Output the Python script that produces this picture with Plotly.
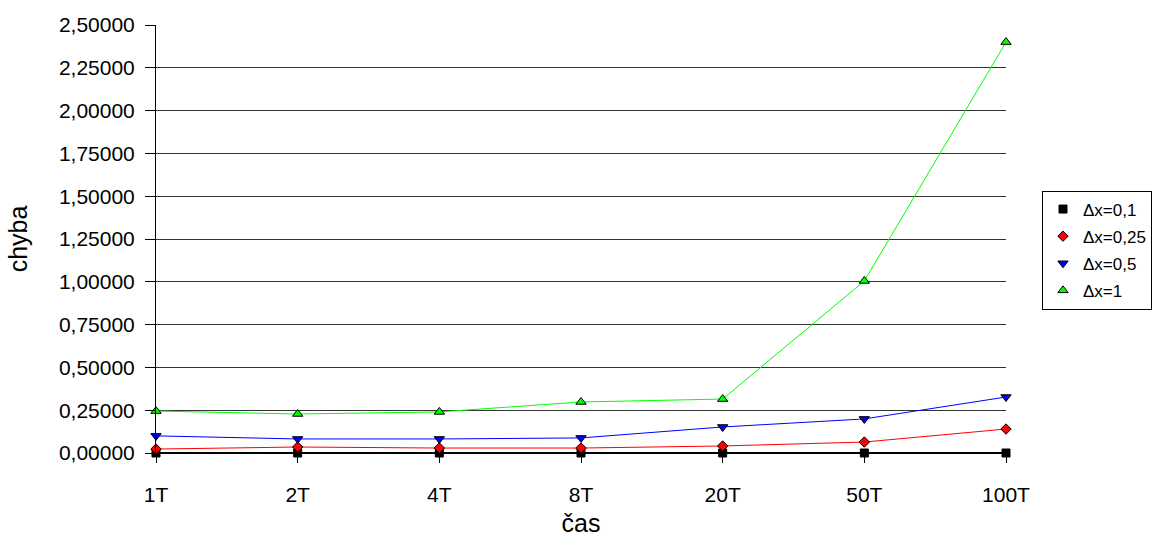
import plotly.graph_objects as go

categories = ["1T", "2T", "4T", "8T", "20T", "50T", "100T"]
dx_01 = [0.0, 0.0, 0.0, 0.0, 0.0, 0.0, 0.0]
dx_025 = [0.023, 0.035, 0.029, 0.029, 0.041, 0.064, 0.140]
dx_05 = [0.100, 0.082, 0.082, 0.088, 0.152, 0.199, 0.327]
dx_1 = [0.245, 0.228, 0.240, 0.298, 0.315, 1.005, 2.400]
series_names = ["Δx=0,1", "Δx=0,25", "Δx=0,5", "Δx=1"]
y_ticks = [0, 0.25, 0.5, 0.75, 1.0, 1.25, 1.5, 1.75, 2.0, 2.25, 2.5]

styles = [
    dict(color="#000000", symbol="square", size=8),
    dict(color="#ff0000", symbol="diamond", size=8),
    dict(color="#0000ff", symbol="triangle-down", size=9),
    dict(color="#00ff00", symbol="triangle-up", size=9),
]

fig = go.Figure()
for name, vals, st in zip(series_names, [dx_01, dx_025, dx_05, dx_1], styles):
    fig.add_trace(go.Scatter(
        x=categories, y=vals, name=name, mode="lines+markers",
        line=dict(color=st["color"], width=1),
        marker=dict(symbol=st["symbol"], size=st["size"], color=st["color"],
                    line=dict(color="#000000", width=1)),
        cliponaxis=False, showlegend=False,
    ))
# legend entries showing only the marker symbol
for name, st in zip(series_names, styles):
    fig.add_trace(go.Scatter(
        x=[None], y=[None], name=name, mode="markers", legendgroup=name,
        marker=dict(symbol=st["symbol"], size=st["size"], color=st["color"],
                    line=dict(color="#000000", width=1)),
        showlegend=True,
    ))

fig.update_layout(
    width=1155, height=538,
    margin=dict(l=156, r=149, t=25, b=85, autoexpand=False),
    paper_bgcolor="white", plot_bgcolor="white",
    font=dict(family="Arial, Liberation Sans, sans-serif", size=21, color="#000000"),
    separators=", ",
    showlegend=True,
    legend=dict(xref="container", yref="container",
                x=1152 / 1155, y=1 - 250 / 538, xanchor="right", yanchor="middle",
                bordercolor="#000000", borderwidth=1, bgcolor="white",
                font=dict(size=17), itemwidth=30, tracegroupgap=2),
    xaxis=dict(
        type="category", range=[0, 6], showgrid=False, automargin=False,
        ticks="outside", ticklen=9, tickcolor="#000000",
        showline=False, zeroline=False,
        ticklabelstandoff=14,
        title=dict(text="čas", font=dict(size=25), standoff=9),
        tickfont=dict(size=21),
    ),
    yaxis=dict(
        range=[0, 2.5], tickvals=y_ticks, tickformat=".5f", automargin=False,
        showgrid=True, gridcolor="#333333", gridwidth=1,
        showline=True, linecolor="#000000", linewidth=1,
        ticks="outside", ticklen=10, tickcolor="#000000",
        zeroline=True, zerolinecolor="#000000", zerolinewidth=2,
        ticklabelstandoff=6,
        title=dict(text="chyba", font=dict(size=25), standoff=24),
        tickfont=dict(size=21),
    ),
)

fig.write_html("out.html", config={"displayModeBar": False},
               post_script="document.body.style.margin='0';")
